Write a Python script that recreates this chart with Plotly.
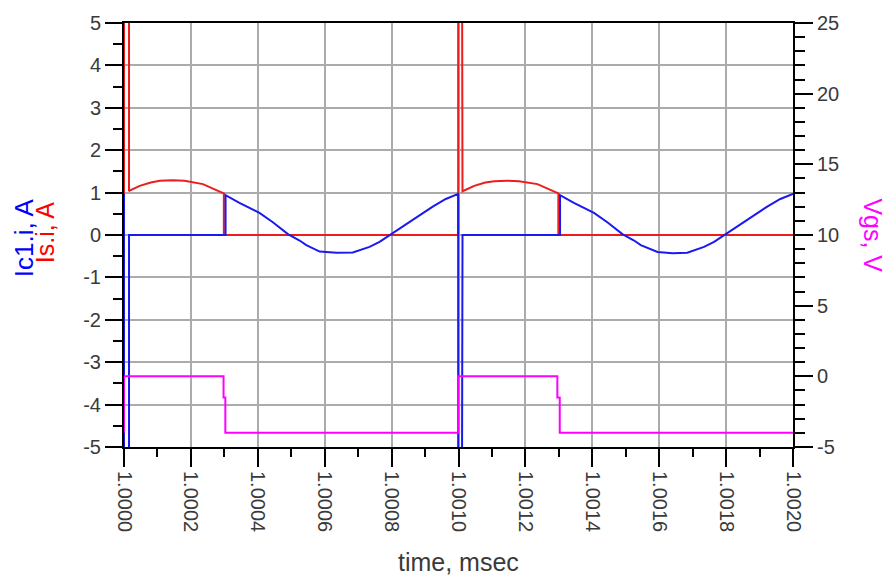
import plotly.graph_objects as go

# ---------------- data ----------------
# Is.i (switch current), A  -- left axis
is_t = [1.0000, 1.0000, 1.000015, 1.000015, 1.000017, 1.000047, 1.00008, 1.000107,
        1.000145, 1.000181, 1.000236, 1.000276, 1.0002985, 1.0002985,
        1.000999, 1.000999, 1.001012, 1.001012, 1.001017, 1.001047, 1.00108, 1.001107,
        1.001145, 1.001181, 1.001236, 1.001276, 1.0012985, 1.0012985, 1.0020]
is_v = [0.0, 50.0, 50.0, 1.03, 1.05, 1.16, 1.24, 1.28,
        1.29, 1.28, 1.20, 1.06, 0.98, 0.0,
        0.0, 50.0, 50.0, 1.03, 1.05, 1.16, 1.24, 1.27,
        1.28, 1.27, 1.20, 1.06, 0.98, 0.0, 0.0]

# Ic1.i (capacitor current), A -- left axis
ic_t = [1.0000, 1.0000, 1.000015, 1.000015, 1.0003036, 1.0003036,
        1.000345, 1.000405, 1.000445, 1.00049, 1.000525, 1.000545, 1.000585,
        1.000635, 1.000684, 1.000734, 1.000764, 1.000799, 1.000843, 1.000883,
        1.000923, 1.000962, 1.000999,
        1.000999, 1.001012, 1.001012, 1.0013036, 1.0013036,
        1.001345, 1.001405, 1.001445, 1.00149, 1.001525, 1.001545, 1.001595,
        1.001640, 1.001684, 1.001734, 1.001764, 1.001799, 1.001843, 1.001883,
        1.001923, 1.001962, 1.0020]
ic_v = [0.97, -50.0, -50.0, 0.0, 0.0, 0.94,
        0.76, 0.52, 0.30, 0.02, -0.13, -0.24, -0.39,
        -0.42, -0.41, -0.28, -0.16, 0.02, 0.26, 0.46,
        0.67, 0.85, 0.97,
        -50.0, -50.0, 0.0, 0.0, 0.94,
        0.76, 0.52, 0.30, 0.02, -0.13, -0.24, -0.40,
        -0.43, -0.42, -0.28, -0.16, 0.02, 0.26, 0.46,
        0.67, 0.85, 0.97]

# Vgs, V -- right axis
vg_t = [1.0000, 1.0000, 1.0002976, 1.0002976, 1.000303, 1.000303,
        1.000999, 1.000999, 1.0012955, 1.0012955, 1.0013027, 1.0013027, 1.0020]
vg_v = [-4.0, 0.0, 0.0, -1.5, -1.5, -4.0,
        -4.0, 0.0, 0.0, -1.5, -1.5, -4.0, -4.0]

x_ticks = [1.0000, 1.0002, 1.0004, 1.0006, 1.0008, 1.0010,
           1.0012, 1.0014, 1.0016, 1.0018, 1.0020]
x_ticklabels = ["1.0000", "1.0002", "1.0004", "1.0006", "1.0008", "1.0010",
                "1.0012", "1.0014", "1.0016", "1.0018", "1.0020"]
x_minor = [1.0001, 1.0003, 1.0005, 1.0007, 1.0009, 1.0011,
           1.0013, 1.0015, 1.0017, 1.0019]
y_ticks = [-5, -4, -3, -2, -1, 0, 1, 2, 3, 4, 5]
y_ticklabels = ["-5", "-4", "-3", "-2", "-1", "0", "1", "2", "3", "4", "5"]
y_minor = [-4.5, -3.5, -2.5, -1.5, -0.5, 0.5, 1.5, 2.5, 3.5, 4.5]
y2_ticks = [-5, 0, 5, 10, 15, 20, 25]
y2_ticklabels = ["-5", "0", "5", "10", "15", "20", "25"]
y2_minor = [-4, -3, -2, -1, 1, 2, 3, 4, 6, 7, 8, 9, 11, 12, 13, 14,
            16, 17, 18, 19, 21, 22, 23, 24]

# ---------------- figure ----------------
RED = "#ee1c1c"
BLUE = "#1a1aee"
MAG = "#ff00ff"
FONT = "Liberation Sans, Arial, sans-serif"
TICKC = "#3a3a3a"

fig = go.Figure()
fig.add_trace(go.Scatter(x=is_t, y=is_v, mode="lines", name="Is.i",
                         line=dict(color=RED, width=2), yaxis="y"))
fig.add_trace(go.Scatter(x=ic_t, y=ic_v, mode="lines", name="Ic1.i",
                         line=dict(color=BLUE, width=2), yaxis="y"))
fig.add_trace(go.Scatter(x=vg_t, y=vg_v, mode="lines", name="Vgs",
                         line=dict(color=MAG, width=2), yaxis="y2"))

fig.update_layout(
    width=888, height=584,
    margin=dict(l=124, r=95, t=23, b=137),
    paper_bgcolor="white", plot_bgcolor="white",
    showlegend=False,
    xaxis=dict(
        range=[1.0, 1.002], tickvals=x_ticks, ticktext=x_ticklabels,
        tickangle=90, ticks="outside", ticklen=18, tickwidth=2, tickcolor="black",
        tickfont=dict(family=FONT, size=20, color=TICKC),
        showgrid=True, gridcolor="#ababab", gridwidth=2,
        showline=True, linecolor="black", linewidth=2, mirror=True,
        zeroline=False,
        minor=dict(tickvals=x_minor, ticks="outside", ticklen=8, tickwidth=2,
                   tickcolor="black", showgrid=False),
    ),
    yaxis=dict(
        range=[-5, 5], tickvals=y_ticks, ticktext=y_ticklabels,
        ticks="outside", ticklen=17, tickwidth=2, tickcolor="black",
        tickfont=dict(family=FONT, size=20, color=TICKC),
        showgrid=True, gridcolor="#ababab", gridwidth=2,
        showline=True, linecolor="black", linewidth=2, mirror=True,
        zeroline=False,
        minor=dict(tickvals=y_minor, ticks="outside", ticklen=9, tickwidth=2,
                   tickcolor="black", showgrid=False),
    ),
    yaxis2=dict(
        range=[-5, 25], tickvals=y2_ticks, ticktext=y2_ticklabels,
        overlaying="y", side="right",
        ticks="outside", ticklen=18, tickwidth=2, tickcolor="black",
        tickfont=dict(family=FONT, size=20, color=TICKC),
        showgrid=False, showline=True, linecolor="black", linewidth=2,
        zeroline=False,
        minor=dict(tickvals=y2_minor, ticks="outside", ticklen=10, tickwidth=2,
                   tickcolor="black", showgrid=False),
    ),
    annotations=[
        dict(text="time, msec", xref="paper", yref="paper", x=0.5, y=-0.272,
             xanchor="center", yanchor="middle", showarrow=False,
             font=dict(family=FONT, size=25, color=TICKC)),
        dict(text="Ic1.i, A", xref="paper", yref="paper", x=-0.150, y=0.494,
             xanchor="center", yanchor="middle", showarrow=False, textangle=-90,
             font=dict(family=FONT, size=26, color="#0000ff")),
        dict(text="Is.i, A", xref="paper", yref="paper", x=-0.117, y=0.506,
             xanchor="center", yanchor="middle", showarrow=False, textangle=-90,
             font=dict(family=FONT, size=25, color="#ff0000")),
        dict(text="Vgs, V", xref="paper", yref="paper", x=1.119, y=0.5,
             xanchor="center", yanchor="middle", showarrow=False, textangle=90,
             font=dict(family=FONT, size=25, color="#ff00ff")),
    ],
)

fig.write_html("out.html")
